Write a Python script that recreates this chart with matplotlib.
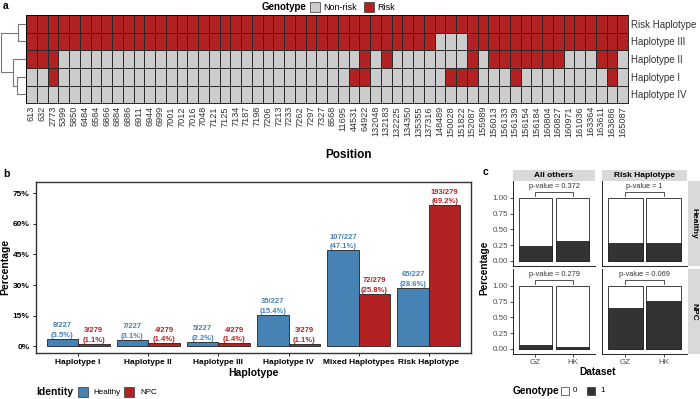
import numpy as np
import matplotlib.pyplot as plt
from matplotlib.colors import ListedColormap
from matplotlib.patches import Rectangle

plt.rcParams['font.family'] = ['Liberation Sans', 'DejaVu Sans']

# ---- panel a data ----
positions = [613, 632, 2773, 5399, 5850, 6484, 6584, 6866, 6884, 6886, 6911, 6944, 6999,
             7001, 7012, 7016, 7048, 7121, 7125, 7134, 7187, 7198, 7206, 7213, 7233, 7262,
             7297, 7327, 8568, 11695, 44531, 64922, 132048, 132183, 132225, 134350, 135355,
             137316, 148489, 150028, 151822, 152087, 155989, 156013, 156133, 156139, 156154,
             156184, 160804, 160827, 160971, 161036, 163364, 163611, 163686, 165087]
haplotypes = ['Risk Haplotype', 'Haplotype III', 'Haplotype II', 'Haplotype I', 'Haplotype IV']
risk_all = positions
risk_III = [p for p in positions if p not in (148489, 150028, 151822)]
risk_II = [613, 632, 2773, 64922, 132183, 152087, 156013, 156133, 156139, 156154, 156184,
           160804, 160827, 163611, 163686]
risk_I = [2773, 44531, 64922, 150028, 151822, 152087, 156139, 163686]
risk_IV = []
# dendrogram merge heights (left of heatmap)
h_risk_III = 8
h_I_IV = 9.3
h_II = 13.3
h_root = 25

# ---- panel b data ----
hap_cats = ['Haplotype I', 'Haplotype II', 'Haplotype III', 'Haplotype IV',
            'Mixed Haplotypes', 'Risk Haplotype']
healthy_n = [8, 7, 5, 35, 107, 65]
npc_n = [3, 4, 4, 3, 72, 193]
healthy_tot = 227
npc_tot = 279

# ---- panel c data ----
datasets = ['GZ', 'HK']
groups = ['All others', 'Risk Haplotype']
identities = ['Healthy', 'NPC']
geno1 = {('Healthy', 'All others'): [0.237, 0.316],
         ('Healthy', 'Risk Haplotype'): [0.29, 0.285],
         ('NPC', 'All others'): [0.068, 0.027],
         ('NPC', 'Risk Haplotype'): [0.648, 0.753]}
pvals = {('Healthy', 'All others'): '0.372',
         ('Healthy', 'Risk Haplotype'): '1',
         ('NPC', 'All others'): '0.279',
         ('NPC', 'Risk Haplotype'): '0.069'}

RED = '#B22222'
BLUE = '#4682B4'
GREY = '#CCCCCC'

fig = plt.figure(figsize=(7, 3.99), dpi=100)


def box(x0, y0, x1, y1):
    return [x0 / 700, 1 - y1 / 399, (x1 - x0) / 700, (y1 - y0) / 399]


def fx(px):
    return px / 700


def fy(py):
    return 1 - py / 399


def swatch(x0, y0, w, h, color):
    fig.add_artist(Rectangle((fx(x0), fy(y0 + h)), w / 700, h / 399, transform=fig.transFigure,
                             facecolor=color, edgecolor='#333333', lw=0.5))


# ---- panel a: heatmap ----
mat = np.array([[1 if p in r else 0 for p in positions]
                for r in [risk_all, risk_III, risk_II, risk_I, risk_IV]])
ax_h = fig.add_axes(box(26, 15, 628, 103.3))
ax_h.pcolormesh(np.arange(len(positions) + 1), np.arange(len(haplotypes) + 1), mat,
                cmap=ListedColormap([GREY, RED]), vmin=0, vmax=1,
                edgecolors='#2a2a2a', linewidth=0.5)
ax_h.set_xlim(0, len(positions))
ax_h.set_ylim(len(haplotypes), 0)
ax_h.set_xticks(np.arange(len(positions)) + 0.5)
ax_h.set_xticklabels([str(p) for p in positions], rotation=90, fontsize=6.6, color='#333333')
ax_h.set_yticks(np.arange(len(haplotypes)) + 0.5)
ax_h.set_yticklabels(haplotypes, fontsize=7, color='#333333')
ax_h.yaxis.tick_right()
ax_h.tick_params(length=0, pad=2)
for s in ax_h.spines.values():
    s.set_linewidth(0.6)

# dendrogram
ax_d = fig.add_axes(box(0, 15, 26, 103.3))
ax_d.set_xlim(26, 0)
ax_d.set_ylim(len(haplotypes), 0)
ax_d.axis('off')
yc = np.arange(len(haplotypes)) + 0.5
dcol = '#777777'


def link(ya, ha, yb, hb, h):
    ax_d.plot([ha, h, h, hb], [ya, ya, yb, yb], color=dcol, lw=0.8)
    return (ya + yb) / 2


top = link(yc[0], 0, yc[1], 0, h_risk_III)
low = link(yc[3], 0, yc[4], 0, h_I_IV)
mid = link(yc[2], 0, low, h_I_IV, h_II)
link(top, h_risk_III, mid, h_II, h_root)

fig.text(fx(3), fy(6), 'a', fontsize=7.5, fontweight='bold', va='center')
fig.text(fx(262), fy(7), 'Genotype', fontsize=7, fontweight='bold', va='center')
swatch(310, 2, 10, 10, GREY)
fig.text(fx(323), fy(7), 'Non-risk', fontsize=6.5, va='center')
swatch(364, 2, 10, 10, RED)
fig.text(fx(377), fy(7), 'Risk', fontsize=6.5, va='center')
fig.text(fx(348), fy(155), 'Position', fontsize=8.5, fontweight='bold', ha='center', va='center')

# ---- panel b: bars ----
ax_b = fig.add_axes(box(36, 181.7, 471, 353))
x = np.arange(len(hap_cats))
w = 0.45
h_pct = np.array(healthy_n) / healthy_tot * 100
n_pct = np.array(npc_n) / npc_tot * 100
ax_b.bar(x - w / 2, h_pct, w, color=BLUE, edgecolor='#222222', lw=0.6)
ax_b.bar(x + w / 2, n_pct, w, color=RED, edgecolor='#222222', lw=0.6)
for i in range(len(hap_cats)):
    ax_b.text(x[i] - w / 2, h_pct[i], f'{healthy_n[i]}/{healthy_tot}\n({h_pct[i]:.1f}%)',
              ha='center', va='bottom', fontsize=5.5, color=BLUE, fontweight='bold',
              linespacing=1.5)
    ax_b.text(x[i] + w / 2, n_pct[i], f'{npc_n[i]}/{npc_tot}\n({n_pct[i]:.1f}%)',
              ha='center', va='bottom', fontsize=5.5, color=RED, fontweight='bold',
              linespacing=1.5)
ax_b.set_xlim(-0.6, len(hap_cats) - 0.4)
ax_b.set_ylim(-3.44, 80.8)
ax_b.set_yticks([0, 15, 30, 45, 60, 75])
ax_b.set_yticklabels(['0%', '15%', '30%', '45%', '60%', '75%'], fontsize=6, fontweight='bold')
ax_b.set_xticks(x)
ax_b.set_xticklabels(hap_cats, fontsize=6, fontweight='bold')
ax_b.tick_params(length=2.5, width=0.6, pad=2)
for s in ax_b.spines.values():
    s.set_color('#333333')
    s.set_linewidth(1)
ax_b.set_xlabel('Haplotype', fontsize=7.5, fontweight='bold', labelpad=1)
ax_b.set_ylabel('Percentage', fontsize=7.5, fontweight='bold', labelpad=2)

fig.text(fx(3), fy(174), 'b', fontsize=7.5, fontweight='bold', va='center')
fig.text(fx(36), fy(392), 'Identity', fontsize=7.5, fontweight='bold', va='center')
swatch(78, 387, 10, 10, BLUE)
fig.text(fx(93), fy(392), 'Healthy', fontsize=5.8, va='center')
swatch(124, 387, 10, 10, RED)
fig.text(fx(140), fy(392), 'NPC', fontsize=5.8, va='center')

# ---- panel c: facets ----
col_x = [(513, 595), (602, 687)]
row_y = [(181, 266), (269, 354)]
for r, ident in enumerate(identities):
    for c, grp in enumerate(groups):
        ax = fig.add_axes(box(col_x[c][0], row_y[r][0], col_x[c][1], row_y[r][1]))
        p1 = geno1[(ident, grp)]
        ax.bar([0, 1], [1, 1], 0.9, color='white', edgecolor='#222222', lw=0.6)
        ax.bar([0, 1], p1, 0.9, color='#333333', edgecolor='#222222', lw=0.6)
        ax.plot([0, 0, 1, 1], [1.03, 1.085, 1.085, 1.03], color='#333333', lw=0.6)
        ax.text(0.5, 1.125, 'p-value = ' + pvals[(ident, grp)], ha='center', va='bottom',
                fontsize=5.3, color='#333333')
        ax.set_xlim(-0.6, 1.6)
        ax.set_ylim(-0.08, 1.264)
        ax.spines['top'].set_visible(False)
        ax.spines['right'].set_visible(False)
        for s in ['left', 'bottom']:
            ax.spines[s].set_linewidth(0.6)
        ax.set_xticks([0, 1])
        ax.set_yticks([0, 0.25, 0.5, 0.75, 1])
        ax.tick_params(length=2, width=0.5, pad=1.5, labelsize=5.8, labelcolor='#4D4D4D')
        if r == 0:
            ax.tick_params(axis='x', length=0, labelbottom=False)
        else:
            ax.set_xticklabels(datasets)
        if c == 0:
            ax.set_yticklabels(['0.00', '0.25', '0.50', '0.75', '1.00'])
        else:
            ax.tick_params(axis='y', length=0, labelleft=False)
        if r == 0:
            sa = fig.add_axes(box(col_x[c][0], 170, col_x[c][1], 181))
            sa.set_facecolor('#D9D9D9')
            sa.set_xticks([])
            sa.set_yticks([])
            for s in sa.spines.values():
                s.set_visible(False)
            sa.text(0.5, 0.5, grp, ha='center', va='center', fontsize=6,
                    fontweight='bold', transform=sa.transAxes)
    sa = fig.add_axes(box(688, row_y[r][0], 700, row_y[r][1]))
    sa.set_facecolor('#D9D9D9')
    sa.set_xticks([])
    sa.set_yticks([])
    for s in sa.spines.values():
        s.set_visible(False)
    sa.text(0.5, 0.5, ident, ha='center', va='center', fontsize=6, fontweight='bold',
            rotation=270, transform=sa.transAxes)

fig.text(fx(483), fy(172), 'c', fontsize=7.5, fontweight='bold', va='center')
fig.text(fx(484), fy(267.5), 'Percentage', fontsize=7.3, fontweight='bold', rotation=90,
         ha='center', va='center')
fig.text(fx(598), fy(372), 'Dataset', fontsize=7.3, fontweight='bold', ha='center', va='center')
fig.text(fx(513), fy(391), 'Genotype', fontsize=7.3, fontweight='bold', va='center')
swatch(561, 387, 8, 8, 'white')
fig.text(fx(573), fy(391), '0', fontsize=5.8, va='center')
swatch(587, 387, 8, 8, '#333333')
fig.text(fx(600), fy(391), '1', fontsize=5.8, va='center')

fig.savefig('out.png', dpi=100)
